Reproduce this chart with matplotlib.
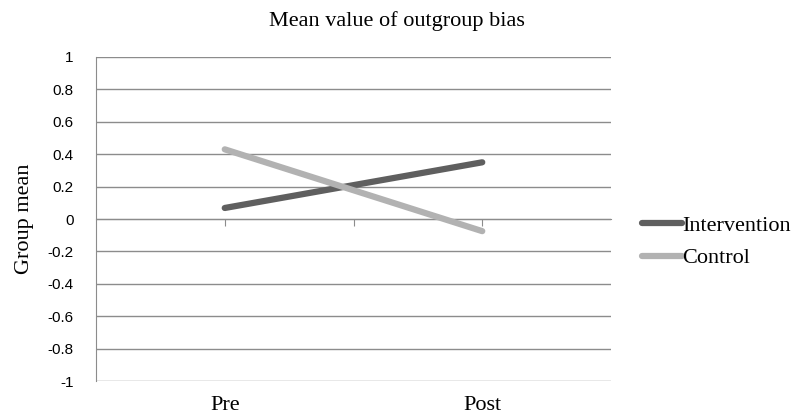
import numpy as np
import matplotlib
matplotlib.use('Agg')
import matplotlib.pyplot as plt

categories = ['Pre', 'Post']
intervention = [0.068, 0.35]
control = [0.43, -0.075]
yticks = [1, 0.8, 0.6, 0.4, 0.2, 0, -0.2, -0.4, -0.6, -0.8, -1]

serif = 'Liberation Serif'
sans = 'Liberation Sans'

fig = plt.figure(figsize=(7.95, 4.19), dpi=100)
ax = fig.add_axes([96/795, 1-381/419, (611-96)/795, (381-57)/419])

x = np.arange(len(categories))
ax.plot(x, intervention, color='#5f5f5f', lw=4.5, solid_capstyle='round', label='Intervention', zorder=3)
ax.plot(x, control, color='#b2b2b2', lw=4.5, solid_capstyle='round', label='Control', zorder=3)

ax.set_xlim(-0.5, 1.5)
ax.set_ylim(-1, 1)
ax.set_yticks(yticks)
ax.set_yticklabels([('%g' % v) for v in yticks], fontfamily=sans, fontsize=11)
ax.yaxis.grid(True, color='#8c8c8c', lw=1)
ax.set_axisbelow(True)
ax.tick_params(axis='y', length=0, pad=16)

for s in ['top', 'right']:
    ax.spines[s].set_visible(False)
ax.spines['left'].set_color('#8c8c8c')
ax.spines['bottom'].set_position(('data', 0))
ax.spines['bottom'].set_color('#8c8c8c')
ax.set_xticks([0, 0.5, 1])
ax.set_xticklabels([])
ax.tick_params(axis='x', length=5, color='#8c8c8c', direction='out')

sec = ax.secondary_xaxis('bottom')
sec.set_xticks(x)
sec.set_xticklabels(categories, fontfamily=serif, fontsize=16)
sec.tick_params(length=0, pad=11)
sec.spines['bottom'].set_visible(False)

ax.set_ylabel('Group mean', fontfamily=serif, fontsize=16, labelpad=10)
fig.text(397/795, 1 - 21/419, 'Mean value of outgroup bias', fontfamily=serif,
         fontsize=16, ha='center', va='center')

ax.legend(loc='center left', bbox_to_anchor=(1.0, 0.43), frameon=False,
          prop={'family': serif, 'size': 16}, handlelength=1.8, handletextpad=0.02,
          labelspacing=0.55, borderaxespad=1.0)

fig.savefig('out.png', dpi=100)
